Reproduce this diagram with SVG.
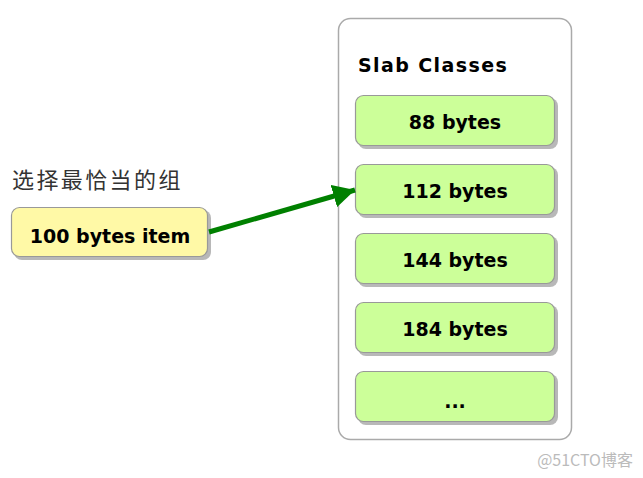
<svg xmlns="http://www.w3.org/2000/svg" width="643" height="478" viewBox="0 0 643 478">
<defs>
<style>
.t{font-family:"DejaVu Sans",Verdana,sans-serif;font-weight:bold;font-size:19px;fill:#000;text-anchor:middle}
.slab{fill:#ccff99;stroke:#999;stroke-width:1.2}
.sh{fill:#888;opacity:0.6}
</style>
<marker id="ah" markerWidth="4.4" markerHeight="4.6" refX="4.4" refY="2.3" orient="auto" markerUnits="strokeWidth">
<path d="M0,0 L4.4,2.3 L0,4.6 z" fill="#008000"/>
</marker>
</defs>
<rect width="643" height="478" fill="#fff"/>
<g id="container">
<rect x="338.5" y="18.5" width="233" height="421" rx="12" fill="#fff" stroke="#aaa" stroke-width="1.5"/>
<text x="358" y="72" style="font-family:'DejaVu Sans',Verdana,sans-serif;font-weight:bold;font-size:19px;letter-spacing:1.4px">Slab Classes</text>
</g>
<g id="s88"><rect class="sh" x="358" y="98" width="200" height="51" rx="8"/><rect class="slab" x="355.5" y="95.5" width="199" height="50" rx="8"/><text class="t" x="455" y="129">88 bytes</text></g>
<g id="s112"><rect class="sh" x="358" y="167" width="200" height="51" rx="8"/><rect class="slab" x="355.5" y="164.5" width="199" height="50" rx="8"/><text class="t" x="455" y="198">112 bytes</text></g>
<g id="s144"><rect class="sh" x="358" y="236" width="200" height="51" rx="8"/><rect class="slab" x="355.5" y="233.5" width="199" height="50" rx="8"/><text class="t" x="455" y="267">144 bytes</text></g>
<g id="s184"><rect class="sh" x="358" y="305" width="200" height="51" rx="8"/><rect class="slab" x="355.5" y="302.5" width="199" height="50" rx="8"/><text class="t" x="455" y="336">184 bytes</text></g>
<g id="sdots"><rect class="sh" x="358" y="374" width="200" height="51" rx="8"/><rect class="slab" x="355.5" y="371.5" width="199" height="50" rx="8"/><text class="t" x="455" y="408">...</text></g>
<g id="item">
<text x="12" y="188" style="font-family:'Noto Sans CJK SC',sans-serif;font-size:22px;letter-spacing:2.4px;fill:#333">选择最恰当的组</text>
<rect class="sh" x="14" y="210" width="197" height="50" rx="8"/>
<rect x="11.5" y="207.5" width="196" height="49" rx="8" fill="#fff9a6" stroke="#999" stroke-width="1.2"/>
<text class="t" x="110" y="243">100 bytes item</text>
</g>
<g id="connectors">
<line x1="209" y1="232" x2="355" y2="190" stroke="#008000" stroke-width="5" marker-end="url(#ah)"/>
</g>
<text x="633" y="466" style="font-family:'Noto Sans CJK SC',sans-serif;font-size:16px;fill:#bbb;text-anchor:end">@51CTO博客</text>
</svg>
